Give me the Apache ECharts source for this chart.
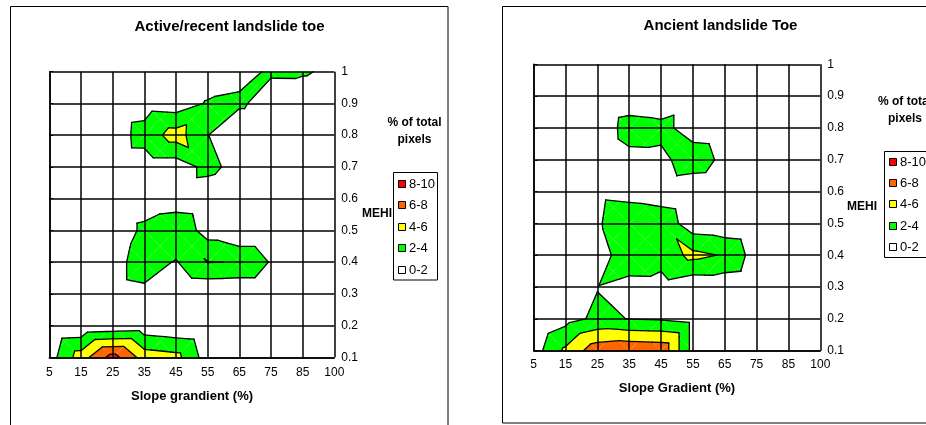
<!DOCTYPE html>
<html>
<head>
<meta charset="utf-8">
<script src="https://cdn.jsdelivr.net/npm/echarts@6/dist/echarts.min.js"></script>
<style>
  html, body { margin: 0; padding: 0; background: #ffffff; }
  #chart { width: 926px; height: 425px; }
</style>
</head>
<body>
<div id="chart"></div>
<script>
// Slope gradient classes (x) and MEHI classes (y)
const slopeTicks = ['5', '15', '25', '35', '45', '55', '65', '75', '85', '100'];
const mehiTicks = ['0.1', '0.2', '0.3', '0.4', '0.5', '0.6', '0.7', '0.8', '0.9', '1'];

// % of total pixels: one row per MEHI class (0.1 first), one column per slope class
const activeToe = [
  [1.05, 5.0, 8.8, 5.1, 4.65, 1.0, 0, 0, 0, 0],
  [0, 0.24, 0.5, 0.7, 0.32, 0, 0, 0, 0, 0],
  [0, 0.5, 1.2, 1.5, 0, 0.18, 0, 0, 0, 0],
  [0, 0, 1.21, 3.0, 1.85, 4.05, 3.95, 1.83, 0, 0],
  [0, 0, 0, 2.6, 3.6, 1.12, 0, 0, 0, 0],
  [0, 0, 0, 0.5, 0.8, 0.55, 0, 0, 0, 0],
  [0, 0, 0.8, 0.85, 0.84, 2.62, 1.21, 0, 0, 0],
  [0, 0, 0.93, 2.8, 4.9, 2.05, 0, 0, 0, 0],
  [0, 0, 0.8, 1.06, 0.82, 2.19, 2.4, 0.9, 0.2, 0],
  [0, 0, 0, 0, 0, 0.5, 1.32, 2.28, 2.3, 1.42]
];

const ancientToe = [
  [1.07, 4.4, 7.26, 7.66, 7.5, 1.32, 0, 0, 0, 0],
  [0, 1.3, 2.4, 1.95, 1.8, 1.3, 0, 0, 0, 0],
  [0, 0.5, 1.93, 1.19, 1.25, 0.45, 0.51, 0.2, 0, 0],
  [0, 0, 0.82, 3.5, 2.77, 4.53, 3.82, 1.02, 0, 0],
  [0, 0, 1.7, 3.7, 3.5, 0.75, 0.51, 0.2, 0, 0],
  [0, 0, 1.4, 1.12, 0.67, 0.2, 0, 0, 0, 0],
  [0, 0, 0.14, 1.3, 1.37, 3.34, 1.37, 0, 0, 0],
  [0, 0, 0.3, 3.0, 2.74, 0.89, 0.7, 0, 0, 0],
  [0, 0, 0, 0.44, 0, 0.9, 0, 0, 0, 0],
  [0, 0, 0, 0, 0, 0, 0, 0, 0, 0]
];

// Contour bands: 0-2, 2-4, 4-6, 6-8, 8-10
const levels = [0, 2, 4, 6, 8, 10];
const bandColors = ['#ffffff', '#00ff00', '#ffff00', '#ff6600', '#ff0000'];
const legendLabels = ['8-10', '6-8', '4-6', '2-4', '0-2'];
const legendColors = ['#ff0000', '#ff6600', '#ffff00', '#00ff00', '#ffffff'];

const FONT = '"Liberation Sans", Arial, sans-serif';

// one data item per grid cell
function cellList(grid) {
  const cells = [];
  for (let j = 0; j < grid.length - 1; j++) {
    for (let i = 0; i < grid[0].length - 1; i++) cells.push([i, j]);
  }
  return cells;
}

// keep the part of a polygon where f(p) >= 0, interpolating linearly
function clip(poly, f) {
  const out = [];
  for (let n = 0; n < poly.length; n++) {
    const p = poly[n], q = poly[(n + 1) % poly.length];
    const fp = f(p), fq = f(q);
    if (fp >= 0) out.push(p);
    if ((fp >= 0) !== (fq >= 0)) {
      const s = fp / (fp - fq);
      out.push([p[0] + s * (q[0] - p[0]), p[1] + s * (q[1] - p[1]), p[2] + s * (q[2] - p[2])]);
    }
  }
  return out;
}

// each cell is split into four triangles around its centre
function makeRenderer(grid) {
  return function (params, api) {
    const i = api.value(0), j = api.value(1);
    const a = grid[j][i], b = grid[j][i + 1], c = grid[j + 1][i], d = grid[j + 1][i + 1];
    const m = Math.max((a + d) / 2, (b + c) / 2);
    const bl = [i, j, a], br = [i + 1, j, b], tl = [i, j + 1, c], tr = [i + 1, j + 1, d];
    const ce = [i + 0.5, j + 0.5, m];
    const tris = [[bl, br, ce], [br, tr, ce], [tr, tl, ce], [tl, bl, ce]];
    const children = [];
    tris.forEach(function (t) {
      for (let k = 1; k < bandColors.length; k++) {
        const lo = levels[k], hi = levels[k + 1];
        const poly = clip(clip(t, p => p[2] - lo), p => hi - p[2]);
        if (poly.length >= 3) {
          children.push({
            type: 'polygon',
            shape: { points: poly.map(p => api.coord([p[0], p[1]])) },
            style: { fill: bandColors[k] }
          });
        }
      }
    });
    tris.forEach(function (t) {
      for (let k = 1; k < levels.length - 1; k++) {
        const L = levels[k];
        const pts = [];
        for (let e = 0; e < 3; e++) {
          const p = t[e], q = t[(e + 1) % 3];
          if ((p[2] - L) * (q[2] - L) < 0) {
            const s = (L - p[2]) / (q[2] - p[2]);
            pts.push(api.coord([p[0] + s * (q[0] - p[0]), p[1] + s * (q[1] - p[1])]));
          }
        }
        if (pts.length === 2) {
          children.push({
            type: 'line',
            shape: { x1: pts[0][0], y1: pts[0][1], x2: pts[1][0], y2: pts[1][1] },
            style: { stroke: '#000000', lineWidth: 1.3, lineCap: 'round' }
          });
        }
      }
    });
    return { type: 'group', children: children };
  };
}

function xAxisFor(gridIndex, margin) {
  return {
    type: 'value', gridIndex: gridIndex, min: 0, max: 9, interval: 1, z: 10,
    axisLine: { show: true, lineStyle: { color: '#000000', width: 1.5 } },
    axisTick: { show: false },
    axisLabel: { formatter: v => slopeTicks[v], color: '#000000', fontSize: 12, fontFamily: FONT, margin: margin },
    splitLine: { show: true, lineStyle: { color: '#000000', width: 1.5 } }
  };
}
function yAxisFor(gridIndex, margin) {
  return {
    type: 'value', gridIndex: gridIndex, min: 0, max: 9, interval: 1, position: 'right', z: 10,
    axisLine: { show: true, lineStyle: { color: '#000000', width: 1.5 } },
    axisTick: { show: true, length: 4, lineStyle: { color: '#000000', width: 1 } },
    axisLabel: { formatter: v => mehiTicks[v], color: '#000000', fontSize: 12, fontFamily: FONT, margin: margin },
    splitLine: { show: true, lineStyle: { color: '#000000', width: 1.5 } }
  };
}

function text(str, x, y, size, bold, align) {
  return {
    type: 'text', z: 20,
    style: {
      text: str, x: x, y: y,
      font: (bold ? 'bold ' : '') + size + 'px ' + FONT,
      fill: '#000000',
      textAlign: align || 'center', textVerticalAlign: 'middle'
    }
  };
}

function legendBlock(boxX, boxY, boxW, boxH, markerX, textX, rowsY) {
  const els = [{
    type: 'rect', z: 20,
    shape: { x: boxX, y: boxY, width: boxW, height: boxH },
    style: { fill: '#ffffff', stroke: '#000000', lineWidth: 1 }
  }];
  legendLabels.forEach(function (lab, k) {
    els.push({
      type: 'rect', z: 21,
      shape: { x: markerX, y: rowsY[k] - 3.5, width: 7, height: 7 },
      style: { fill: legendColors[k], stroke: '#000000', lineWidth: 1 }
    });
    els.push(text(lab, textX, rowsY[k], 13, false, 'left'));
  });
  return els;
}

const chart = echarts.init(document.getElementById('chart'), null, { renderer: 'canvas' });

const graphics = [
  { type: 'rect', z: 1, shape: { x: 10.5, y: 6.5, width: 437.5, height: 440 },
    style: { fill: 'none', stroke: '#000000', lineWidth: 1 } },
  { type: 'rect', z: 1, shape: { x: 502.5, y: 6.5, width: 440, height: 416.5 },
    style: { fill: 'none', stroke: '#000000', lineWidth: 1 } },
  text('Active/recent landslide toe', 229.5, 27, 15, true),
  text('Ancient landslide Toe', 720.5, 26, 15, true),
  text('Slope grandient (%)', 192, 396, 13, true),
  text('Slope Gradient (%)', 677, 388, 13, true),
  text('MEHI', 377, 214, 12, true),
  text('MEHI', 862, 207, 12, true),
  text('% of total', 414.5, 123, 12, true),
  text('pixels', 414.5, 140, 12, true),
  text('% of total', 905, 102, 12, true),
  text('pixels', 905, 119, 12, true)
].concat(
  legendBlock(393.5, 172.5, 44, 107.5, 398.5, 409, [184, 205, 227, 248, 270]),
  legendBlock(884.5, 151.5, 50, 106, 889.5, 900, [162, 183, 204, 226, 247])
);

chart.setOption({
  animation: false,
  backgroundColor: '#ffffff',
  grid: [
    { left: 49.3, top: 71.7, width: 285, height: 285.6 },
    { left: 533.7, top: 64.3, width: 286.6, height: 286.4 }
  ],
  xAxis: [xAxisFor(0, 9), xAxisFor(1, 8)],
  yAxis: [yAxisFor(0, 7), yAxisFor(1, 7)],
  series: [
    {
      type: 'custom', name: 'Active/recent landslide toe',
      xAxisIndex: 0, yAxisIndex: 0, silent: true,
      renderItem: makeRenderer(activeToe),
      encode: { x: 0, y: 1 },
      data: cellList(activeToe)
    },
    {
      type: 'custom', name: 'Ancient landslide Toe',
      xAxisIndex: 1, yAxisIndex: 1, silent: true,
      renderItem: makeRenderer(ancientToe),
      encode: { x: 0, y: 1 },
      data: cellList(ancientToe)
    }
  ],
  graphic: graphics
});
</script>
</body>
</html>
